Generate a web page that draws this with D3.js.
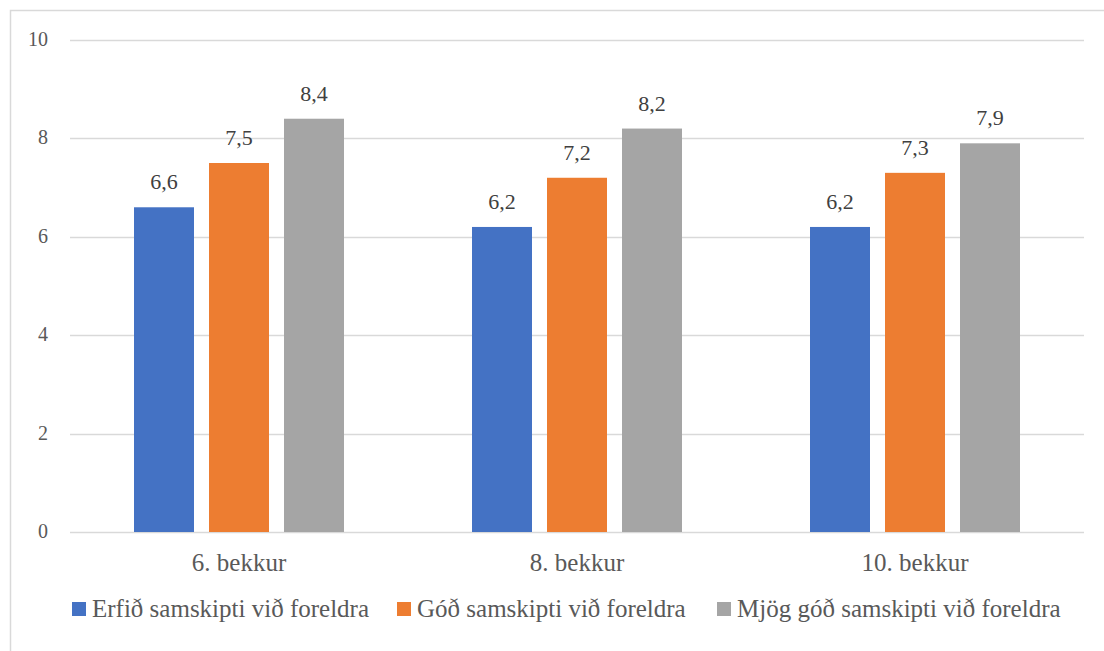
<!DOCTYPE html>
<html>
<head>
<meta charset="utf-8">
<script src="https://cdn.jsdelivr.net/npm/d3@7"></script>
<style>
  body { margin: 0; background: #fff; }
</style>
</head>
<body>
<div id="chart"></div>
<script>
// Gögn lesin af myndinni
const categories = ["6. bekkur", "8. bekkur", "10. bekkur"];
const seriesNames = ["Erfið samskipti við foreldra", "Góð samskipti við foreldra", "Mjög góð samskipti við foreldra"];
const erfid = [6.6, 6.2, 6.2];
const god = [7.5, 7.2, 7.3];
const mjogGod = [8.4, 8.2, 7.9];
const yTicks = [0, 2, 4, 6, 8, 10];

const colors = ["#4472c4", "#ed7d31", "#a5a5a5"];
const series = [erfid, god, mjogGod];

const width = 1104, height = 651;
const margin = { top: 40, right: 20, bottom: 119, left: 70 };

const svg = d3.select("#chart").append("svg")
  .attr("width", width)
  .attr("height", height);

// rammi utan um myndritið (hægri og neðri brún utan myndar)
svg.append("rect")
  .attr("x", 10.5).attr("y", 10.5)
  .attr("width", width + 20).attr("height", height + 20)
  .attr("fill", "none")
  .attr("stroke", "#d9d9d9")
  .attr("stroke-width", 1.5);

const x = d3.scaleBand()
  .domain(categories)
  .range([margin.left, width - margin.right]);

const y = d3.scaleLinear()
  .domain([0, 10])
  .range([height - margin.bottom, margin.top]);

const barW = 60, barGap = 15;
const inner = d3.scaleBand()
  .domain(d3.range(series.length))
  .range([x.bandwidth() / 2 - (barW * 1.5 + barGap), x.bandwidth() / 2 + (barW * 1.5 + barGap)])
  .paddingInner(barGap / (barW + barGap));

// hnitalínur
svg.append("g")
  .selectAll("line")
  .data(yTicks)
  .join("line")
  .attr("x1", margin.left)
  .attr("x2", width - margin.right)
  .attr("y1", d => Math.round(y(d)) + 0.5)
  .attr("y2", d => Math.round(y(d)) + 0.5)
  .attr("stroke", "#d9d9d9")
  .attr("stroke-width", 1.5);

svg.append("g")
  .selectAll("text")
  .data(yTicks)
  .join("text")
  .attr("x", 48)
  .attr("y", d => y(d) + 6)
  .attr("text-anchor", "end")
  .attr("font-family", "Liberation Serif")
  .attr("font-size", 20)
  .attr("fill", "#595959")
  .text(d => d);

// súlur
series.forEach((vals, s) => {
  const g = svg.append("g");
  g.selectAll("rect")
    .data(vals)
    .join("rect")
    .attr("x", (d, i) => x(categories[i]) + inner(s))
    .attr("y", d => y(d))
    .attr("width", inner.bandwidth())
    .attr("height", d => y(0) - y(d))
    .attr("fill", colors[s]);

  g.selectAll("text")
    .data(vals)
    .join("text")
    .attr("x", (d, i) => x(categories[i]) + inner(s) + inner.bandwidth() / 2)
    .attr("y", d => y(d) - 18)
    .attr("text-anchor", "middle")
    .attr("font-family", "Liberation Serif")
    .attr("font-size", 22)
    .attr("fill", "#404040")
    .text(d => String(d).replace(".", ","));
});

// flokkaheiti
svg.append("g")
  .selectAll("text")
  .data(categories)
  .join("text")
  .attr("x", d => x(d) + x.bandwidth() / 2)
  .attr("y", 571)
  .attr("text-anchor", "middle")
  .attr("font-family", "Liberation Serif")
  .attr("font-size", 25)
  .attr("fill", "#595959")
  .text(d => d);

// skýringar
const legendX = [72, 397, 717];
const legend = svg.append("g");
seriesNames.forEach((name, i) => {
  legend.append("rect")
    .attr("x", legendX[i])
    .attr("y", 602)
    .attr("width", 14)
    .attr("height", 14)
    .attr("fill", colors[i]);
  legend.append("text")
    .attr("x", legendX[i] + 20)
    .attr("y", 617)
    .attr("font-family", "Liberation Serif")
    .attr("font-size", 25)
    .attr("fill", "#595959")
    .text(name);
});
</script>
</body>
</html>
